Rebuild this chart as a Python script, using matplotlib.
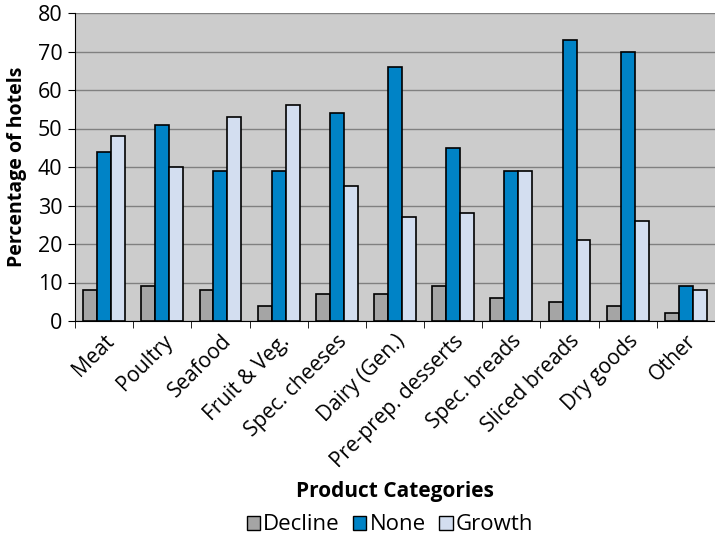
import matplotlib
matplotlib.use("Agg")
import matplotlib.pyplot as plt
import numpy as np
from matplotlib.patches import Patch

categories = ["Meat", "Poultry", "Seafood", "Fruit & Veg.", "Spec. cheeses", "Dairy (Gen.)",
              "Pre-prep. desserts", "Spec. breads", "Sliced breads", "Dry goods", "Other"]
decline = [8, 9, 8, 4, 7, 7, 9, 6, 5, 4, 2]
none_ = [44, 51, 39, 39, 54, 66, 45, 39, 73, 70, 9]
growth = [48, 40, 53, 56, 35, 27, 28, 39, 21, 26, 8]
series_names = ["Decline", "None", "Growth"]
colors = ["#A5A5A5", "#0083C6", "#D3DEF0"]

plt.rcParams['font.family'] = ['Open Sans', 'DejaVu Sans']

fig = plt.figure(figsize=(7.15, 5.39), dpi=100)
ax = fig.add_axes([75/715, 1 - 321/539, 640/715, 308/539])
ax.set_facecolor("#CCCCCC")

x = np.arange(len(categories))
w = 0.24
for i, (vals, c) in enumerate(zip([decline, none_, growth], colors)):
    ax.bar(x + (i - 1) * w, vals, width=w, color=c, edgecolor="black", linewidth=1.2, zorder=3)

ax.set_xlim(-0.5, len(categories) - 0.5)
ax.set_ylim(0, 80)
ax.set_yticks(range(0, 81, 10))
ax.yaxis.grid(True, color="#808080", linewidth=1.0, zorder=0)
ax.set_axisbelow(True)

ax.set_xticks(x)
ax.set_xticklabels(categories, rotation=45, ha="right", rotation_mode="anchor", fontsize=15)
ax.tick_params(axis="x", length=0, pad=7)
ax.set_xticks(np.arange(-0.5, len(categories), 1), minor=True)
ax.tick_params(axis="x", which="minor", length=5, direction="out")
ax.tick_params(axis="y", labelsize=15.5, length=5, direction="out", pad=4)

for s in ["top", "right"]:
    ax.spines[s].set_visible(False)
ax.spines["left"].set_color("black")
ax.spines["bottom"].set_color("black")

ax.set_ylabel("Percentage of hotels", fontsize=14, fontweight="bold", labelpad=8)
fig.text(395/715, 1 - 491/539, "Product Categories", fontsize=15, fontweight="bold",
         ha="center", va="center")

handles = [Patch(facecolor=c, edgecolor="black", label=n) for c, n in zip(colors, series_names)]
fig.legend(handles=handles, loc="center", bbox_to_anchor=(390/715, 1 - 525/539), ncol=3,
           frameon=False, fontsize=16, handlelength=0.6, handleheight=0.6, handletextpad=0.15,
           columnspacing=0.6, borderaxespad=0)

fig.savefig("out.png", dpi=100)
